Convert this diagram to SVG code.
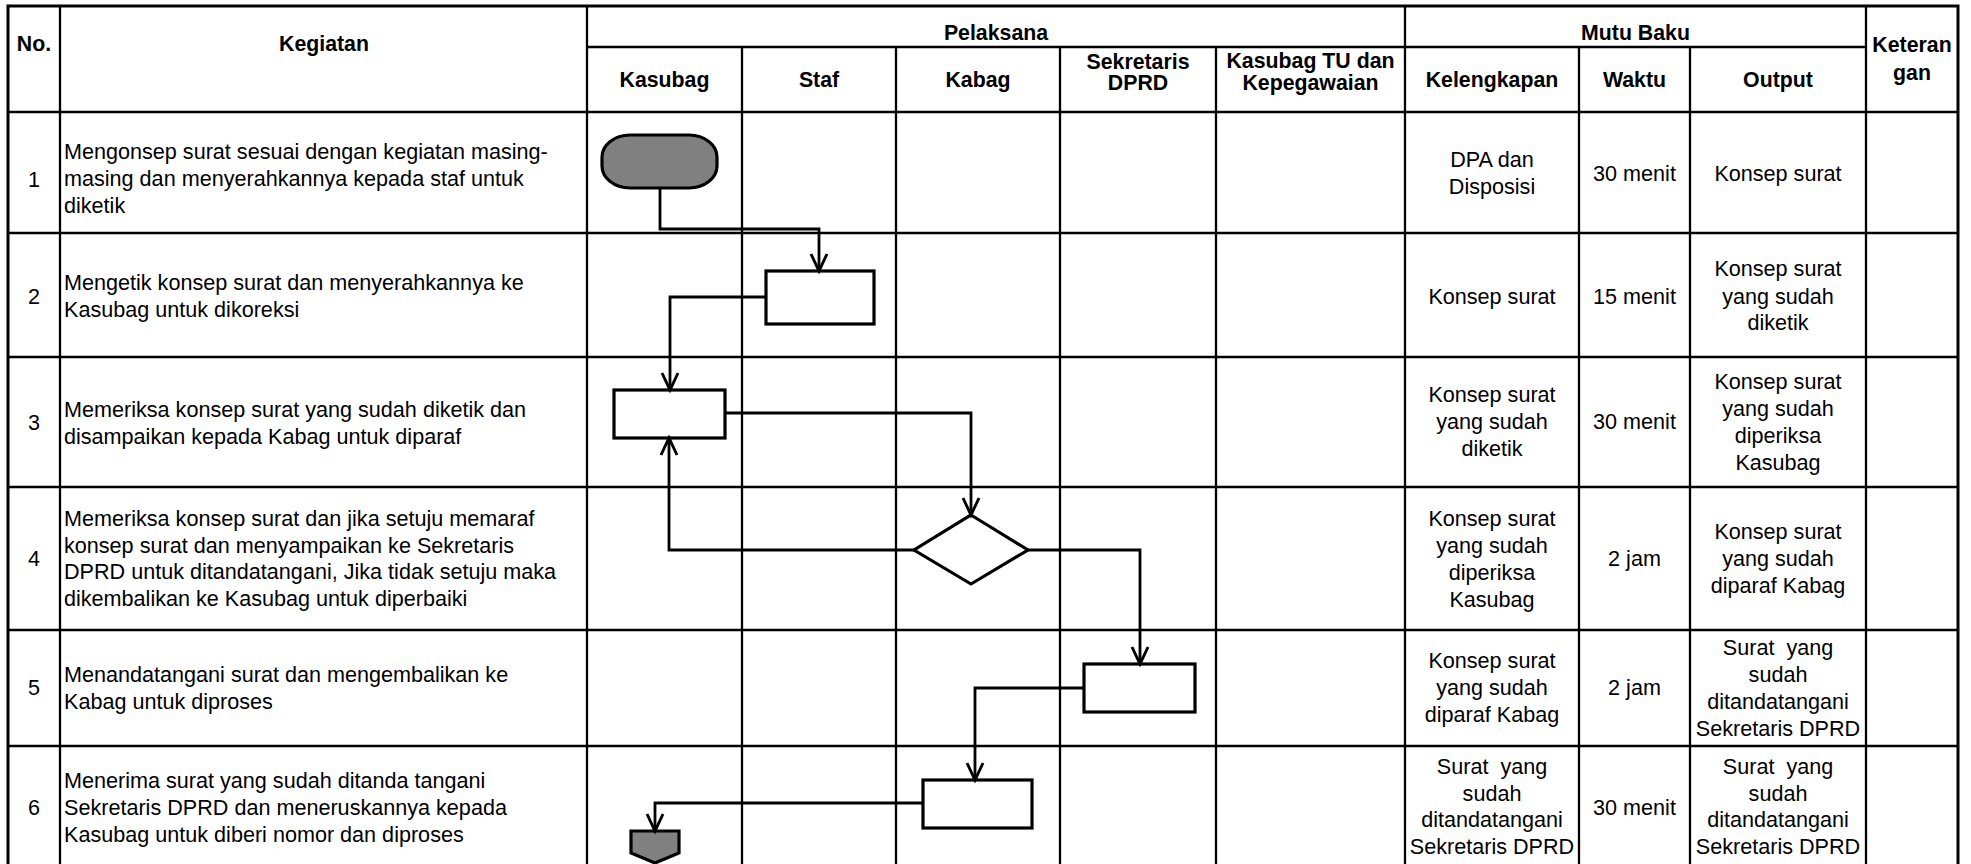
<svg xmlns="http://www.w3.org/2000/svg" width="1971" height="864" viewBox="0 0 1971 864">
  <defs>
    <style>
      .grid { stroke: #000; stroke-width: 2.3; fill: none; }
      .outer { stroke: #000; stroke-width: 3; fill: none; }
      .hd { font-family: "Liberation Sans", Arial, sans-serif; font-weight: bold; font-size: 21.3px; text-anchor: middle; fill: #000; }
      .tx { font-family: "Liberation Sans", Arial, sans-serif; font-size: 21.6px; fill: #000; }
      .c { text-anchor: middle; }
      .pre { white-space: pre; }
      .shape { fill: #fff; stroke: #000; stroke-width: 3.2; }
      .dark { fill: #808080; }
      .conn { fill: none; stroke: #000; stroke-width: 2.8; marker-end: url(#arr); }
    </style>
    <marker id="arr" markerUnits="userSpaceOnUse" orient="auto" refX="0" refY="0" markerWidth="30" markerHeight="30" overflow="visible">
      <path d="M-17,-8 L0,0 L-17,8" fill="none" stroke="#000" stroke-width="2.9" stroke-linejoin="miter"/>
    </marker>
  </defs>

  <rect width="1971" height="864" fill="#fff"/>

  <!-- table grid -->
  <g id="table">
    <rect class="outer" x="8" y="6" width="1950" height="880"/>
    <!-- full-height column rules -->
    <line class="grid" x1="60" y1="6" x2="60" y2="886"/>
    <line class="grid" x1="587" y1="6" x2="587" y2="886"/>
    <line class="grid" x1="1405" y1="6" x2="1405" y2="886"/>
    <line class="grid" x1="1866" y1="6" x2="1866" y2="886"/>
    <!-- sub-column rules under the group headings -->
    <line class="grid" x1="742" y1="47" x2="742" y2="886"/>
    <line class="grid" x1="896" y1="47" x2="896" y2="886"/>
    <line class="grid" x1="1060" y1="47" x2="1060" y2="886"/>
    <line class="grid" x1="1216" y1="47" x2="1216" y2="886"/>
    <line class="grid" x1="1579" y1="47" x2="1579" y2="886"/>
    <line class="grid" x1="1690" y1="47" x2="1690" y2="886"/>
    <!-- row rules -->
    <line class="grid" x1="587" y1="47" x2="1866" y2="47"/>
    <line class="grid" x1="8" y1="112" x2="1958" y2="112"/>
    <line class="grid" x1="8" y1="233" x2="1958" y2="233"/>
    <line class="grid" x1="8" y1="357" x2="1958" y2="357"/>
    <line class="grid" x1="8" y1="487" x2="1958" y2="487"/>
    <line class="grid" x1="8" y1="630" x2="1958" y2="630"/>
    <line class="grid" x1="8" y1="746" x2="1958" y2="746"/>
  </g>

  <!-- header labels -->
  <g id="header">
    <text class="hd" x="34" y="51">No.</text>
    <text class="hd" x="324" y="51">Kegiatan</text>
    <text class="hd" x="996" y="40">Pelaksana</text>
    <text class="hd" x="1635.5" y="40">Mutu Baku</text>
    <text class="hd" x="664.5" y="87">Kasubag</text>
    <text class="hd" x="819" y="87">Staf</text>
    <text class="hd" x="978" y="87">Kabag</text>
    <text class="hd" x="1138" y="69">Sekretaris</text>
    <text class="hd" x="1138" y="90">DPRD</text>
    <text class="hd" x="1310.5" y="68">Kasubag TU dan</text>
    <text class="hd" x="1310.5" y="90">Kepegawaian</text>
    <text class="hd" x="1492" y="87">Kelengkapan</text>
    <text class="hd" x="1634.5" y="87">Waktu</text>
    <text class="hd" x="1778" y="87">Output</text>
    <text class="hd" x="1912" y="52">Keteran</text>
    <text class="hd" x="1912" y="80">gan</text>
  </g>

  <!-- row numbers -->
  <g id="numbers" class="tx c">
    <text x="34" y="187">1</text>
    <text x="34" y="304">2</text>
    <text x="34" y="430">3</text>
    <text x="34" y="565.5">4</text>
    <text x="34" y="695">5</text>
    <text x="34" y="815">6</text>
  </g>

  <!-- activity descriptions -->
  <g id="kegiatan" class="tx">
    <text x="64" y="159">Mengonsep surat sesuai dengan kegiatan masing-</text>
    <text x="64" y="186">masing dan menyerahkannya kepada staf untuk</text>
    <text x="64" y="213">diketik</text>
    <text x="64" y="290">Mengetik konsep surat dan menyerahkannya ke</text>
    <text x="64" y="317">Kasubag untuk dikoreksi</text>
    <text x="64" y="417">Memeriksa konsep surat yang sudah diketik dan</text>
    <text x="64" y="443.5">disampaikan kepada Kabag untuk diparaf</text>
    <text x="64" y="526">Memeriksa konsep surat dan jika setuju memaraf</text>
    <text x="64" y="552.5">konsep surat dan menyampaikan ke Sekretaris</text>
    <text x="64" y="579">DPRD untuk ditandatangani, Jika tidak setuju maka</text>
    <text x="64" y="605.5">dikembalikan ke Kasubag untuk diperbaiki</text>
    <text x="64" y="682">Menandatangani surat dan mengembalikan ke</text>
    <text x="64" y="709">Kabag untuk diproses</text>
    <text x="64" y="788">Menerima surat yang sudah ditanda tangani</text>
    <text x="64" y="815">Sekretaris DPRD dan meneruskannya kepada</text>
    <text x="64" y="842">Kasubag untuk diberi nomor dan diproses</text>
  </g>

  <!-- quality standard columns -->
  <g id="kelengkapan" class="tx c">
    <text x="1492" y="167">DPA dan</text>
    <text x="1492" y="194">Disposisi</text>
    <text x="1492" y="304">Konsep surat</text>
    <text x="1492" y="402">Konsep surat</text>
    <text x="1492" y="429">yang sudah</text>
    <text x="1492" y="455.5">diketik</text>
    <text x="1492" y="526">Konsep surat</text>
    <text x="1492" y="553">yang sudah</text>
    <text x="1492" y="580">diperiksa</text>
    <text x="1492" y="606.5">Kasubag</text>
    <text x="1492" y="667.5">Konsep surat</text>
    <text x="1492" y="695">yang sudah</text>
    <text x="1492" y="722">diparaf Kabag</text>
    <text class="pre" x="1492" y="774">Surat  yang</text>
    <text x="1492" y="800.5">sudah</text>
    <text x="1492" y="827">ditandatangani</text>
    <text x="1492" y="854">Sekretaris DPRD</text>
  </g>
  <g id="waktu" class="tx c">
    <text x="1634.5" y="180.5">30 menit</text>
    <text x="1634.5" y="304">15 menit</text>
    <text x="1634.5" y="429">30 menit</text>
    <text x="1634.5" y="566">2 jam</text>
    <text x="1634.5" y="695">2 jam</text>
    <text x="1634.5" y="815">30 menit</text>
  </g>
  <g id="output" class="tx c">
    <text x="1778" y="180.5">Konsep surat</text>
    <text x="1778" y="276">Konsep surat</text>
    <text x="1778" y="303.5">yang sudah</text>
    <text x="1778" y="330">diketik</text>
    <text x="1778" y="389">Konsep surat</text>
    <text x="1778" y="416">yang sudah</text>
    <text x="1778" y="443">diperiksa</text>
    <text x="1778" y="470">Kasubag</text>
    <text x="1778" y="539">Konsep surat</text>
    <text x="1778" y="566">yang sudah</text>
    <text x="1778" y="593">diparaf Kabag</text>
    <text class="pre" x="1778" y="655">Surat  yang</text>
    <text x="1778" y="682">sudah</text>
    <text x="1778" y="709">ditandatangani</text>
    <text x="1778" y="735.5">Sekretaris DPRD</text>
    <text class="pre" x="1778" y="774">Surat  yang</text>
    <text x="1778" y="800.5">sudah</text>
    <text x="1778" y="827">ditandatangani</text>
    <text x="1778" y="854">Sekretaris DPRD</text>
  </g>

  <!-- flowchart symbols -->
  <g id="start">
    <rect class="shape dark" x="602" y="135" width="115" height="53" rx="28" ry="22"/>
  </g>
  <g id="step2-staf">
    <rect class="shape" x="766" y="271" width="108" height="53"/>
  </g>
  <g id="step3-kasubag">
    <rect class="shape" x="614" y="390" width="111" height="48"/>
  </g>
  <g id="step4-decision">
    <polygon class="shape" points="971,515 1028,550 971,584 914,550"/>
  </g>
  <g id="step5-sekretaris">
    <rect class="shape" x="1084" y="664" width="111" height="48"/>
  </g>
  <g id="step6-kabag">
    <rect class="shape" x="923" y="780" width="109" height="48"/>
  </g>
  <g id="offpage">
    <polygon class="shape dark" points="631,831 679,831 679,853 655,863 631,853"/>
  </g>

  <!-- connectors -->
  <g id="connectors">
    <path class="conn" d="M660,188 V229 H819 V271"/>
    <path class="conn" d="M766,297 H670 V390"/>
    <path class="conn" d="M725,413 H971 V515"/>
    <path class="conn" d="M914,550 H669 V438"/>
    <path class="conn" d="M1028,550 H1140 V664"/>
    <path class="conn" d="M1084,688 H975 V780"/>
    <path class="conn" d="M923,803 H655 V831"/>
  </g>
</svg>
